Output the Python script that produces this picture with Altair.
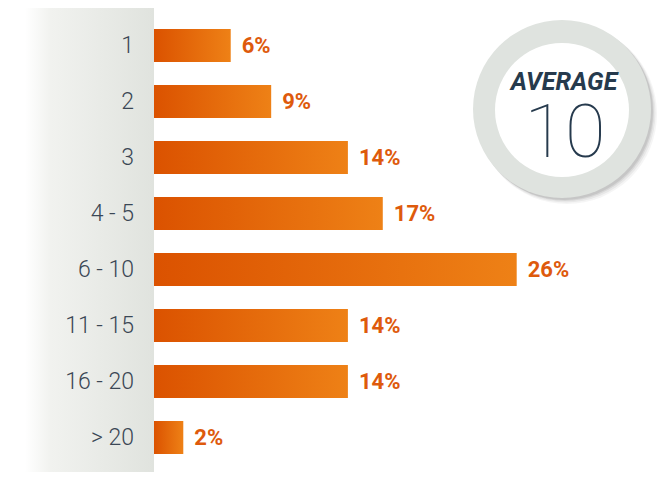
import altair as alt
import pandas as pd

categories = ["1", "2", "3", "4 - 5", "6 - 10", "11 - 15", "16 - 20", "> 20"]
bar_values = [5.5, 8.4, 13.9, 16.4, 26.0, 13.9, 13.9, 2.1]
share_labels = ["6%", "9%", "14%", "17%", "26%", "14%", "14%", "2%"]
average_title = "AVERAGE"
average_value = "10"

df = pd.DataFrame({"cat": categories, "val": bar_values, "lbl": share_labels})
one = pd.DataFrame({"k": [0]})

x_scale = alt.Scale(domain=[0, 26], range=[146, 508.7], nice=False, zero=True)
y_scale = alt.Scale(domain=categories, range=[9.5, 457.5], paddingInner=0.41, paddingOuter=0.205)

panel_grad = alt.Gradient(
    gradient="linear", x1=0, x2=1, y1=0, y2=0,
    stops=[alt.GradientStop(color="#ffffff", offset=0),
           alt.GradientStop(color="#f1f2ef", offset=0.2),
           alt.GradientStop(color="#e0e3de", offset=1)])
bar_grad = alt.Gradient(
    gradient="linear", x1=0, x2=1, y1=0, y2=0,
    stops=[alt.GradientStop(color="#db5200", offset=0),
           alt.GradientStop(color="#ee8116", offset=1)])

panel = alt.Chart(one).mark_rect(fill=panel_grad).encode(
    x=alt.value(17), x2=alt.value(146), y=alt.value(0), y2=alt.value(472))

bars = alt.Chart(df).mark_bar(fill=bar_grad).encode(
    x=alt.X("val:Q", scale=x_scale, axis=None),
    y=alt.Y("cat:N", scale=y_scale, axis=None, sort=categories),
)

pct = alt.Chart(df).mark_text(
    align="left", baseline="middle", dx=11, fontSize=22, fontWeight="bold",
    font="Roboto", color="#de5a0c").encode(
    x=alt.X("val:Q", scale=x_scale, axis=None),
    y=alt.Y("cat:N", scale=y_scale, axis=None, sort=categories),
    text="lbl:N")

cats = alt.Chart(df).mark_text(
    align="right", baseline="middle", fontSize=23, fontWeight=300,
    font="Roboto", color="#3b4755").encode(
    x=alt.value(126),
    y=alt.Y("cat:N", scale=y_scale, axis=None, sort=categories),
    text="cat:N")

# Vega circle symbol: size = (2r)^2
shadows = [
    alt.Chart(one).mark_circle(color="#000000", opacity=op, size=(2 * r) ** 2).encode(
        x=alt.value(554 + dx), y=alt.value(101 + dy))
    for (dx, dy, r, op) in [(5, 5, 90, 0.04), (4, 4, 89.5, 0.05), (3, 3, 89, 0.07), (2, 2, 89, 0.08)]
]
outer = alt.Chart(one).mark_circle(color="#dfe3df", opacity=1, size=(2 * 89) ** 2).encode(
    x=alt.value(554), y=alt.value(101))
inner = alt.Chart(one).mark_circle(color="#ffffff", opacity=1, size=(2 * 67) ** 2).encode(
    x=alt.value(554), y=alt.value(102))
avg_t = alt.Chart(one).mark_text(
    align="center", baseline="alphabetic", fontSize=25, fontWeight="bold",
    fontStyle="italic", font="Roboto", color="#263a4d", text=average_title).encode(
    x=alt.value(556), y=alt.value(82))
avg_v = alt.Chart(one).mark_text(
    align="center", baseline="alphabetic", fontSize=74, fontWeight=100,
    font="Roboto", color="#263a4d", text=average_value).encode(
    x=alt.value(557), y=alt.value(149))

chart = alt.layer(panel, bars, pct, cats, *shadows, outer, inner, avg_t, avg_v).properties(
    width=656, height=464, padding=0,
    autosize=alt.AutoSizeParams(type="none"),
).configure_view(stroke=None)

chart.save("out.html", embed_options={"renderer": "svg", "actions": False})
